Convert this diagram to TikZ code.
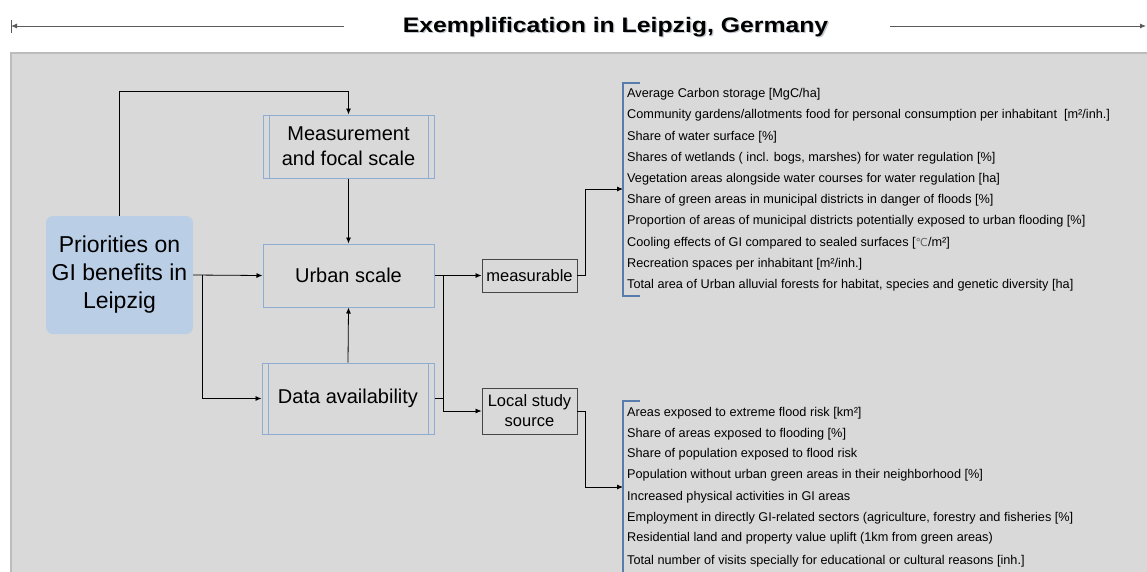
\documentclass[tikz,border=0pt]{standalone}
\usepackage{fontspec}
\setmainfont{Liberation Sans}
\newfontfamily\symfont{DejaVu Sans}
\usetikzlibrary{arrows.meta}

\definecolor{panelgray}{RGB}{217,217,217}
\definecolor{panelline}{RGB}{188,188,188}
\definecolor{boxblue}{RGB}{143,172,210}
\definecolor{prioblue}{RGB}{186,206,230}
\definecolor{bracketblue}{RGB}{88,124,172}
\definecolor{darkline}{RGB}{70,70,70}
\definecolor{titleline}{RGB}{90,90,90}
\definecolor{titleglow}{RGB}{120,130,150}

\newcommand{\titletext}{\scalebox{1.18}[1]{Exemplification in Leipzig, Germany}}

\begin{document}
\begin{tikzpicture}[x=1pt,y=-1pt,
  conn/.style={draw=black, line width=0.8pt, -{Latex[length=6pt,width=5pt]}},
  plain/.style={draw=black, line width=0.8pt},
  stage/.style={draw=boxblue, line width=1pt, minimum width=171pt, minimum height=63pt,
    font=\fontsize{20}{25}\selectfont, align=center, inner sep=0pt},
  tag/.style={draw=darkline, line width=0.9pt, minimum width=95pt,
    font=\fontsize{16.5}{20}\selectfont, align=center, inner sep=0pt},
  item/.style={anchor=base west, inner sep=0pt, font=\fontsize{12.7}{15}\selectfont},
  bracket/.style={draw=bracketblue, line width=1.2pt},
  heading/.style={anchor=base, inner sep=0pt, font=\bfseries\fontsize{21}{25}\selectfont}
]
\useasboundingbox (0,0) rectangle (1147,571);

% title bar
\coordinate (tl1) at (11,26);
\coordinate (tl2) at (344,26);
\coordinate (tr1) at (890,26);
\coordinate (tr2) at (1146,26);
\node[heading, text=titleglow, opacity=0.45] (titleshadow) at (616.8,33.4) {\titletext};
\node[heading] (title) at (615.5,32) {\titletext};
\draw[titleline, line width=0.9pt, {Latex[length=6pt,width=5pt]}-] (tl1) -- (tl2);
\draw[titleline, line width=1pt] (11,20) -- (11,32.5);
\draw[titleline, line width=0.9pt, -{Latex[length=6pt,width=5pt]}] (tr1) -- (tr2);

% background panel
\fill[panelgray] (11,53) rectangle (1150,575);
\draw[panelline, line width=1.2pt] (11,575) -- (11,53) -- (1150,53);

% main boxes
\node[fill=prioblue, rounded corners=7pt, minimum width=147pt, minimum height=118pt,
  inner sep=0pt, align=center, font=\fontsize{23}{28}\selectfont] (prio) at (119.5,275)
  {Priorities on\\GI benefits in\\Leipzig};
\node[stage] (meas) at (348.5,146.5) {Measurement\\and focal scale};
\node[stage] (urban) at (348.5,275.5) {Urban scale};
\node[stage, minimum width=172pt, minimum height=71pt] (data) at (348,398.5) {Data availability};
\foreach \b in {meas,data}{
  \draw[boxblue, line width=1pt] ([xshift=6.5pt]\b.north west) -- ([xshift=6.5pt]\b.south west);
  \draw[boxblue, line width=1pt] ([xshift=-6.5pt]\b.north east) -- ([xshift=-6.5pt]\b.south east);
}
\node[tag, minimum height=33pt] (measurable) at (529.5,275.5) {measurable};
\node[tag, minimum height=46pt] (local) at (529.5,411) {Local study\\source};

% connectors between the stages
\coordinate (topturn) at (119.5,91);
\coordinate (split1) at (202,275);
\coordinate (split2) at (443,275.5);
\coordinate (elbow1) at (585,189);
\coordinate (elbow2) at (585,487);
\coordinate (br1in) at (623,189);
\coordinate (br2in) at (623,487);

\draw[conn] (prio.north) -- (topturn) -| (meas.north);
\draw[conn] (meas.south) -- (urban.north);
\draw[conn] (prio.east) -- (urban.west);
\draw[conn] (split1) |- (data.west);
\draw[conn] (data.north) -- (urban.south);
\draw[conn] (urban.east) -- (measurable.west);
\draw[conn] (split2) |- (local.west);
\draw[plain] (data.east) -- (data.east -| split2);
\draw[conn] (measurable.east) -| (elbow1) -- (br1in);
\draw[conn] (local.east) -| (elbow2) -- (br2in);

% indicator brackets
\draw[bracket] (640,83) -- (623,83) -- (623,296) -- (640,296);
\draw[bracket] (640,401) -- (623,401) -- (623,575);

% measurable indicators
\foreach \y/\t [count=\i] in {
  97.8/{Average Carbon storage [MgC/ha]},
  118.8/{Community gardens/allotments food for personal consumption per inhabitant\ \ [m²/inh.]},
  140.2/{Share of water surface [\%]},
  161.2/{Shares of wetlands ( incl. bogs, marshes) for water regulation [\%]},
  182.2/{Vegetation areas alongside water courses for water regulation [ha]},
  203.5/{Share of green areas in municipal districts in danger of floods [\%]},
  224.5/{Proportion of areas of municipal districts potentially exposed to urban flooding [\%]},
  246.2/{Cooling effects of GI compared to sealed surfaces [{\symfont\fontsize{11}{15}\selectfont\color{black!60}℃}/m²]},
  267.2/{Recreation spaces per inhabitant [m²/inh.]},
  288.2/{Total area of Urban alluvial forests for habitat, species and genetic diversity [ha]}}{
  \node[item] (mi\i) at (627,\y) {\t};
}

% local study indicators
\foreach \y/\t [count=\i] in {
  416.2/{Areas exposed to extreme flood risk [km²]},
  437.2/{Share of areas exposed to flooding [\%]},
  457.8/{Share of population exposed to flood risk},
  478.8/{Population without urban green areas in their neighborhood [\%]},
  500.2/{Increased physical activities in GI areas},
  521.2/{Employment in directly GI-related sectors (agriculture, forestry and fisheries [\%]},
  541.8/{Residential land and property value uplift (1km from green areas)},
  564.8/{Total number of visits specially for educational or cultural reasons [inh.]}}{
  \node[item] (li\i) at (627,\y) {\t};
}
\end{tikzpicture}
\end{document}
